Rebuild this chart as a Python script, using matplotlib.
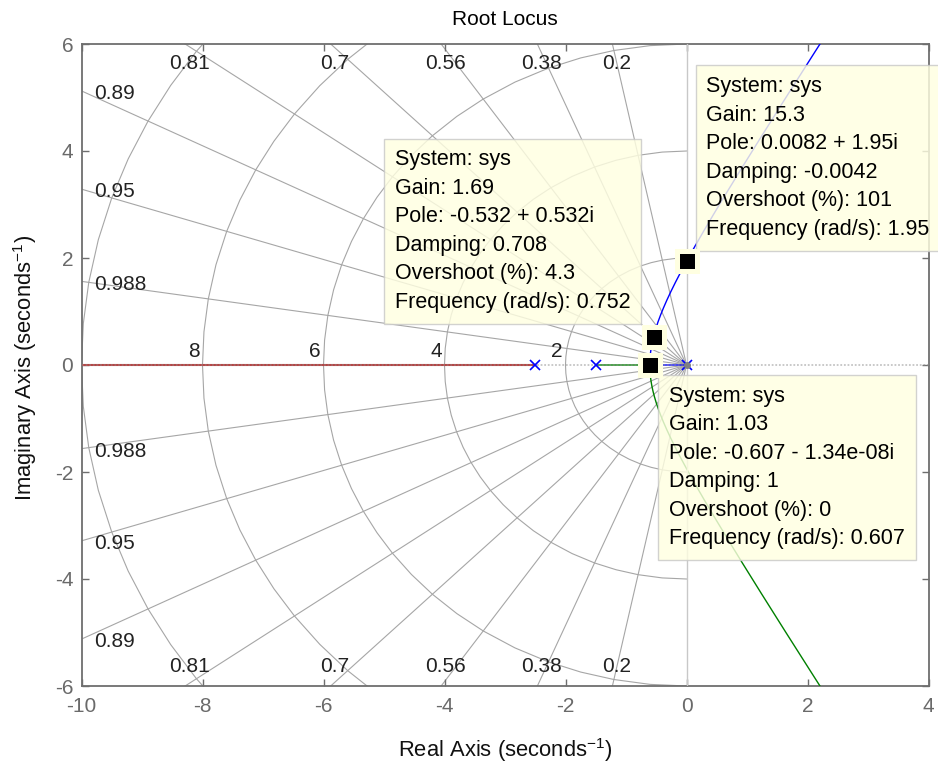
import numpy as np
import matplotlib
matplotlib.use("Agg")
import matplotlib.pyplot as plt

plt.rcParams['font.family'] = ['Liberation Sans', 'DejaVu Sans']
plt.rcParams['axes.unicode_minus'] = False
plt.rcParams['mathtext.default'] = 'regular'

# open-loop system: G(s) = 1 / (s (s + 1.5) (s + 2.5))
open_loop_poles = [0.0, -1.5, -2.5]

# s-plane grid (damping ratios and natural frequencies)
damping_values = [0.2, 0.38, 0.56, 0.7, 0.81, 0.89, 0.95, 0.988]
wn_values = [2, 4, 6, 8, 10]
wn_labels = [2, 4, 6, 8]

x_ticks = [-10, -8, -6, -4, -2, 0, 2, 4]
y_ticks = [-6, -4, -2, 0, 2, 4, 6]

# data tips
tip_gain = [1.69, 15.3, 1.03]
tip_re = [-0.532, 0.0082, -0.607]
tip_im = [0.532, 1.95, -1.34e-08]
tip_damping = [0.708, -0.0042, 1]
tip_overshoot = [4.3, 101, 0]
tip_freq = [0.752, 1.95, 0.607]

XMIN, XMAX, YMIN, YMAX = -10, 4, -6, 6
GRID_C = '#A6A6A6'
AX_C = '#6E6E6E'
FS = 15
TIP_FS = 15.5
LABEL_FS = 15.8

fig = plt.figure(figsize=(9.38, 7.63), dpi=100)
ax = fig.add_axes([81.5 / 938, 77 / 763, 847 / 938, 642 / 763])
ax.set_xlim(XMIN, XMAX)
ax.set_ylim(YMIN, YMAX)

# ---- damping lines ----
phis = np.arccos(damping_values)
R = 40.0
for z, phi in zip(damping_values, phis):
    for sgn in (1, -1):
        ax.plot([0, -R * np.cos(phi)], [0, sgn * R * np.sin(phi)],
                color=GRID_C, lw=0.8, zorder=1)

# ---- natural frequency arcs (polygonal, vertices on damping rays) ----
base = np.concatenate([[0.0], np.sort(phis), [np.pi / 2]])
mids = (base[:-1] + base[1:]) / 2
ang = np.sort(np.concatenate([base, mids]))
ang = np.concatenate([-ang[::-1], ang[1:]])
for wn in wn_values:
    ax.plot(-wn * np.cos(ang), wn * np.sin(ang), color=GRID_C, lw=0.8, zorder=1)

# ---- grid labels ----
for z, phi in zip(damping_values, phis):
    t = np.tan(phi)
    if YMAX / t < -XMIN:
        xe = -YMAX / t
        ax.annotate(f'{z:g}', (xe, YMAX), xytext=(3, -7), textcoords='offset points',
                    ha='center', va='top', fontsize=FS, color='#222222', zorder=2)
        ax.annotate(f'{z:g}', (xe, YMIN), xytext=(3, 7), textcoords='offset points',
                    ha='center', va='bottom', fontsize=FS, color='#222222', zorder=2)
    else:
        ye = -XMIN * t
        ax.annotate(f'{z:g}', (XMIN, ye), xytext=(9, -2), textcoords='offset points',
                    ha='left', va='center', fontsize=FS, color='#222222', zorder=2)
        ax.annotate(f'{z:g}', (XMIN, -ye), xytext=(9, -2), textcoords='offset points',
                    ha='left', va='center', fontsize=FS, color='#222222', zorder=2)
for wn in wn_labels:
    ax.annotate(f'{wn:g}', (-wn, 0), xytext=(-2, 3), textcoords='offset points',
                ha='right', va='bottom', fontsize=FS, color='#222222', zorder=2)

# ---- root locus branches ----
den = np.poly(open_loop_poles)
s_break = np.roots(np.polyder(den))
s_break = s_break[(s_break.real < 0) & (s_break.real > -1.5)].real[0]
k_break = -np.polyval(den, s_break)
gains = np.unique(np.concatenate([np.linspace(0, k_break, 600),
                                  np.geomspace(k_break, 3000, 900)]))
blue, green, red = [], [], []
for k in gains:
    cl = den.copy()
    cl[-1] += k
    r = np.roots(cl)
    if k <= k_break:
        r = np.sort(r.real)
        red.append(r[0]); green.append(r[1]); blue.append(r[2])
    else:
        i_real = np.argmin(np.abs(r.imag))
        rest = np.delete(r, i_real)
        red.append(r[i_real].real)
        blue.append(rest[np.argmax(rest.imag)])
        green.append(rest[np.argmin(rest.imag)])
blue = np.array(blue, dtype=complex)
green = np.array(green, dtype=complex)
red = np.array(red, dtype=complex)
ax.plot(blue.real, blue.imag, color='#0000FF', lw=1.0, zorder=3)
ax.plot(green.real, green.imag, color='#008000', lw=1.0, zorder=3)
ax.plot(red.real, red.imag, color='#B84444', lw=1.5, zorder=3)

# real / imaginary axis lines
ax.axhline(0, color='#8C8C8C', lw=1.3, alpha=0.5, ls=(0, (1, 1)), zorder=4)
ax.axvline(0, color='#C8C8C8', lw=1.0, zorder=4)

# open-loop poles
ax.plot(open_loop_poles, np.zeros(len(open_loop_poles)), 'x', color='#0000FF',
        ms=7, mew=1.2, zorder=5)
ax.plot([0], [0], 'o', color='#808080', ms=4, zorder=5)

# ---- data tips ----
placements = [dict(xytext=(-17, 17), ha='right', va='bottom'),
              dict(xytext=(14, 15), ha='left', va='bottom'),
              dict(xytext=(14, -15), ha='left', va='top')]
for i in range(len(tip_gain)):
    sign = '+' if tip_im[i] >= 0 else '-'
    txt = (f"System: sys\nGain: {tip_gain[i]:.3g}\n"
           f"Pole: {tip_re[i]:.3g} {sign} {abs(tip_im[i]):.3g}i\n"
           f"Damping: {tip_damping[i]:.3g}\nOvershoot (%): {tip_overshoot[i]:.3g}\n"
           f"Frequency (rad/s): {tip_freq[i]:.3g}")
    ax.annotate(txt, (tip_re[i], tip_im[i]), textcoords='offset points',
                fontsize=TIP_FS, linespacing=1.47, multialignment='left',
                color='black', zorder=6,
                bbox=dict(boxstyle='square,pad=0.5', fc='#FFFFE1', ec='#C8C8C8',
                          lw=1.0, alpha=0.82),
                annotation_clip=False, **placements[i])
    ax.plot(tip_re[i], tip_im[i], 's', ms=14.5, mfc='black', mec='#FFFFE1',
            mew=3.6, zorder=7, clip_on=False)

# ---- axes styling ----
ax.set_xticks(x_ticks)
ax.set_yticks(y_ticks)
ax.set_xticklabels([f'{v:d}' for v in x_ticks])
ax.set_yticklabels([f'{v:d}' for v in y_ticks])
ax.tick_params(direction='in', length=5, width=1, color=AX_C, labelcolor='#6A6A6A',
               labelsize=FS, top=True, right=True)
ax.tick_params(axis='x', pad=8)
ax.tick_params(axis='y', pad=6)
for sp in ax.spines.values():
    sp.set_color(AX_C)
    sp.set_linewidth(1.3)

fig.text(505 / 938, 1 - 25 / 763, 'Root Locus', ha='center', va='baseline',
         fontsize=15, color='black')
fig.text(505 / 938, 1 - 757 / 763, r'Real Axis (seconds$^{-1}$)', ha='center',
         va='baseline', fontsize=LABEL_FS, color='#111111')
fig.text(25 / 938, 1 - 368 / 763, r'Imaginary Axis (seconds$^{-1}$)', ha='center',
         va='center', rotation=90, fontsize=LABEL_FS, color='#111111')

fig.savefig('out.png', dpi=100)
